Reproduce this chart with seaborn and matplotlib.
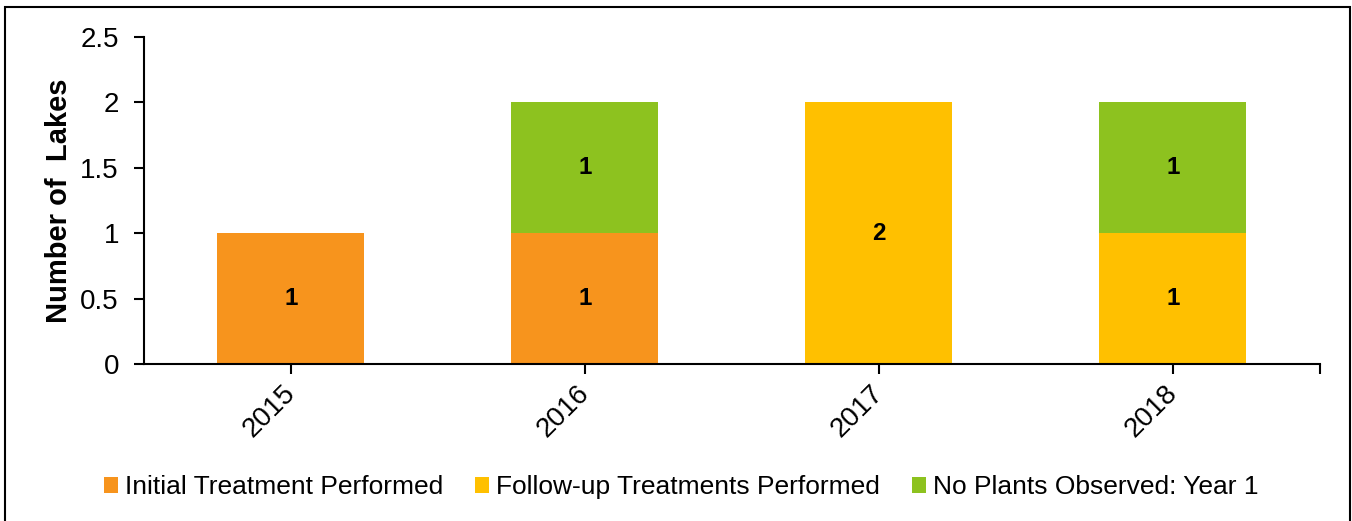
import matplotlib
matplotlib.use("Agg")
import matplotlib.pyplot as plt
from matplotlib.patches import Patch, Rectangle
import numpy as np
import pandas as pd
import seaborn as sns

# Lakes treated per year, split by treatment status
years = ["2015", "2016", "2017", "2018"]
initial_treatment = [1, 1, 0, 0]
followup_treatments = [0, 0, 2, 1]
no_plants_year1 = [0, 1, 0, 1]

series_names = [
    "Initial Treatment Performed",
    "Follow-up Treatments Performed",
    "No Plants Observed: Year 1",
]
series_colors = ["#F7941D", "#FFC000", "#8DC21F"]
y_ticks = [0, 0.5, 1, 1.5, 2, 2.5]
y_tick_labels = ["0", "0.5", "1", "1.5", "2", "2.5"]

sns.set_theme(style="white")
plt.rcParams["font.family"] = ["Liberation Sans", "DejaVu Sans"]
plt.rcParams["text.color"] = "black"
plt.rcParams["axes.labelcolor"] = "black"

layers = np.array([initial_treatment, followup_treatments, no_plants_year1], dtype=float)
cum = np.cumsum(layers, axis=0)
df = pd.DataFrame({"year": years})
for name, c in zip(series_names, cum):
    df[name] = c

fig = plt.figure(figsize=(13.52, 5.21), dpi=100)
ax = fig.add_axes([0.1065, 0.3013, 0.8698, 0.6277])

# stacked bars: draw cumulative totals back to front
for name, color in reversed(list(zip(series_names, series_colors))):
    sns.barplot(data=df, x="year", y=name, order=years, color=color,
                saturation=1, width=0.5, linewidth=0, errorbar=None, ax=ax)

# segment value labels
base = np.vstack([np.zeros(len(years)), cum[:-1]])
for layer, b in zip(layers, base):
    for i, v in enumerate(layer):
        if v:
            ax.text(i, b[i] + v / 2, f"{v:g}", ha="center", va="center",
                    fontweight="bold", fontsize=17.5, color="black")

ax.set_xlim(-0.5, 3.5)
ax.set_ylim(0, 2.5)
ax.set_yticks(y_ticks, y_tick_labels)
ax.set_xlabel("")
ax.set_ylabel("Number of  Lakes", fontweight="bold", fontsize=21, labelpad=5,
              color="black")

for side in ("top", "right"):
    ax.spines[side].set_visible(False)
for side in ("left", "bottom"):
    ax.spines[side].set_color("black")
    ax.spines[side].set_linewidth(1.5)

ax.set_xticks([3.5], minor=True)
ax.tick_params(axis="both", which="both", direction="out", length=7, width=1.5,
               color="black", labelsize=20, labelcolor="black", left=True, bottom=True)
ax.tick_params(axis="y", pad=11)
ax.tick_params(axis="x", pad=11)
for lbl in ax.get_xticklabels():
    lbl.set_rotation(45)
    lbl.set_ha("right")
    lbl.set_va("center")
    lbl.set_rotation_mode("anchor")

handles = [Patch(facecolor=c, edgecolor="none", label=n) for n, c in zip(series_names, series_colors)]
fig.legend(handles=handles, loc="center", bbox_to_anchor=(0.5037, 0.065), ncol=3,
           frameon=False, fontsize=19, handlelength=0.55, handleheight=0.55,
           handletextpad=0.25, columnspacing=1.2, labelcolor="black")

fig.add_artist(Rectangle((5 / 1352, -0.01), 1345 / 1352, 0.9966, transform=fig.transFigure,
                         fill=False, edgecolor="black", linewidth=1.5))

fig.savefig("out.png", dpi=100)
